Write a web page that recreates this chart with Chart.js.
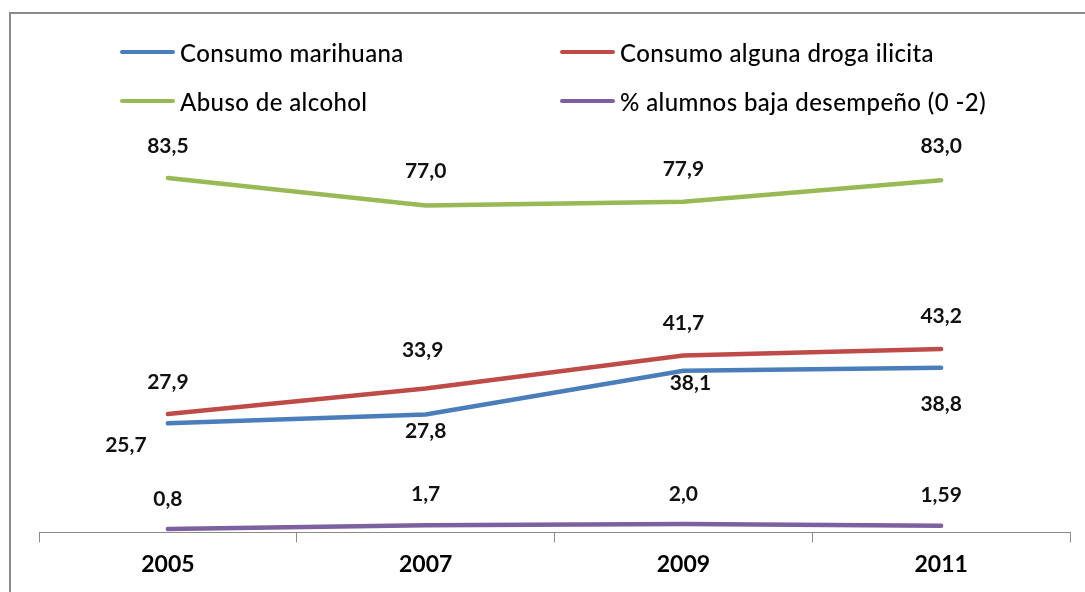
<!DOCTYPE html>
<html>
<head>
<meta charset="utf-8">
<script src="https://cdn.jsdelivr.net/npm/chart.js@4"></script>
<style>
  html, body { margin: 0; padding: 0; background: #fff; }
  #wrap { position: relative; width: 1085px; height: 592px; overflow: hidden; }
  #frame { position: absolute; left: 9px; top: 12px; width: 1200px; height: 700px;
           border-left: 2px solid #8a8a8a; border-top: 2px solid #8a8a8a; }
  canvas { position: absolute; left: 0; top: 0; }
  .lg { position: absolute; display: flex; align-items: center; font-family: Lato, "Noto Sans", sans-serif;
        font-size: 24px; font-weight: 500; letter-spacing: 0.4px; color: #000; white-space: nowrap; height: 30px; }
  .lg span.sw { display: inline-block; width: 55px; height: 4px; border-radius: 2px; margin-right: 5px; }
</style>
</head>
<body>
<div id="wrap">
  <div id="frame"></div>
  <canvas id="c" width="1085" height="592"></canvas>
  <div id="legend"></div>
</div>
<script>
// ---- data ----
const years = ["2005", "2007", "2009", "2011"];
const marihuana = [25.7, 27.8, 38.1, 38.8];
const drogaIlicita = [27.9, 33.9, 41.7, 43.2];
const abusoAlcohol = [83.5, 77.0, 77.9, 83.0];
const bajoDesempeno = [0.8, 1.7, 2.0, 1.59];
const seriesNames = ["Consumo marihuana", "Consumo alguna droga ilicita", "Abuso de alcohol", "% alumnos baja desempeño (0 -2)"];

// ---- styles ----
const colors = ["#4a7ebb", "#be4b48", "#98b954", "#7d60a0"];
// label offsets (dx, dy) in pixels relative to the point
const labelOffsets = [
  [[-42, 22], [0, 17], [7, 13], [0, 37]],
  [[0, -32], [-3, -38], [0, -32], [0, -33]],
  [[0, -32], [0, -34], [0, -33], [0, -34]],
  [[0, -30], [0, -31], [0, -30], [0, -30]]
];

function fmt(v) {
  const s = Number.isInteger(Math.round(v * 100) / 10) ? v.toFixed(1) : v.toFixed(2);
  return s.replace('.', ',');
}

const labelPlugin = {
  id: 'pointLabels',
  afterDatasetsDraw(chart) {
    const ctx = chart.ctx;
    ctx.save();
    ctx.font = 'bold 21px Lato, "Noto Sans", sans-serif';
    ctx.fillStyle = '#111';
    ctx.textAlign = 'center';
    ctx.textBaseline = 'middle';
    chart.data.datasets.forEach((ds, i) => {
      const meta = chart.getDatasetMeta(i);
      meta.data.forEach((pt, j) => {
        const off = labelOffsets[i][j];
        ctx.fillText(fmt(ds.data[j]), pt.x + off[0], pt.y + off[1]);
      });
    });
    ctx.restore();
  }
};

const seriesData = [marihuana, drogaIlicita, abusoAlcohol, bajoDesempeno];
const chart = new Chart(document.getElementById('c'), {
  type: 'line',
  data: {
    labels: years,
    datasets: seriesData.map((d, i) => ({
      label: seriesNames[i],
      data: d,
      borderColor: colors[i],
      backgroundColor: colors[i],
      borderWidth: 4.5,
      pointRadius: 0,
      tension: 0,
      borderCapStyle: 'round'
    }))
  },
  options: {
    responsive: false,
    animation: false,
    layout: { padding: { left: 39, right: 15, top: 108, bottom: 6 } },
    plugins: { legend: { display: false }, tooltip: { enabled: false } },
    scales: {
      x: {
        offset: true,
        grid: { offset: true, drawOnChartArea: false, drawTicks: true, tickLength: 10, color: '#8a8a8a', lineWidth: 1 },
        border: { display: true, color: '#8a8a8a', width: 1 },
        ticks: { color: '#000', font: { family: 'Lato, "Noto Sans", sans-serif', size: 23, weight: 'bold' }, padding: 8 }
      },
      y: {
        display: false,
        min: 0,
        max: 100
      }
    }
  },
  plugins: [labelPlugin]
});

// HTML legend in two columns built from the datasets
const legendPos = [[120, 37], [560, 37], [120, 86], [560, 86]];
const lg = document.getElementById('legend');
chart.data.datasets.forEach((ds, i) => {
  const d = document.createElement('div');
  d.className = 'lg';
  d.style.left = legendPos[i][0] + 'px';
  d.style.top = legendPos[i][1] + 'px';
  const sw = document.createElement('span');
  sw.className = 'sw';
  sw.style.background = ds.borderColor;
  d.appendChild(sw);
  d.appendChild(document.createTextNode(ds.label));
  lg.appendChild(d);
});
</script>
</body>
</html>
